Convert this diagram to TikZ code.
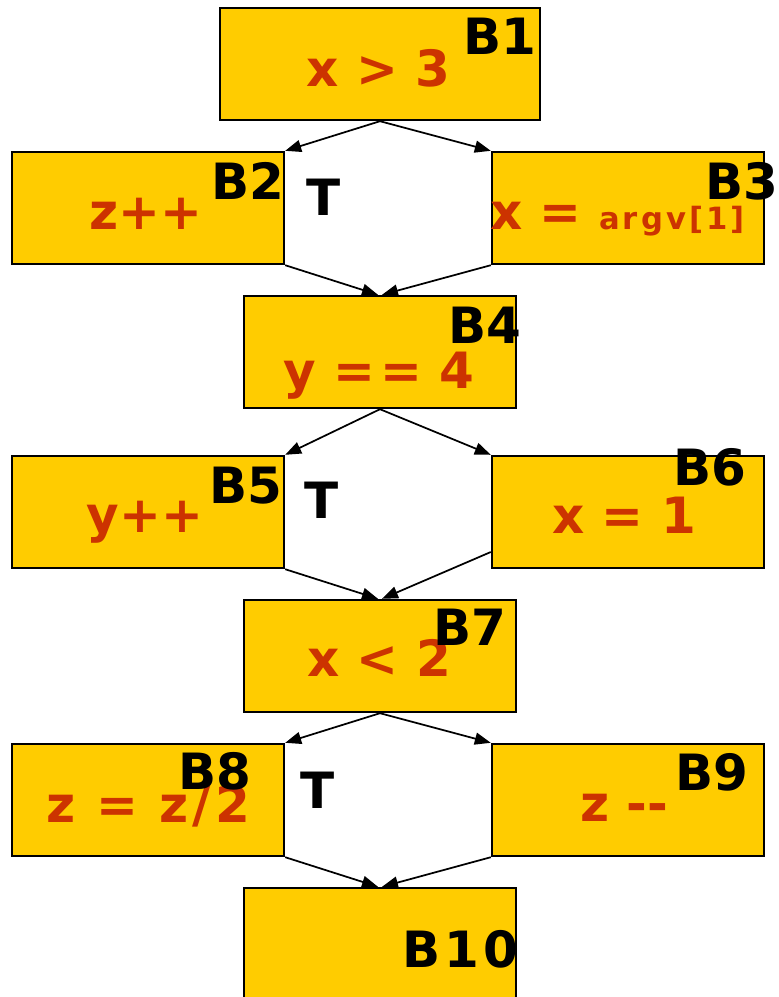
\documentclass[tikz,border=0pt]{standalone}
\usepackage{fontspec}
\newfontfamily\vfont{DejaVu Sans}
\usetikzlibrary{arrows.meta}
\definecolor{boxyellow}{HTML}{FFCC00}
\definecolor{codered}{HTML}{CC3300}
\begin{document}
\begin{tikzpicture}[x=0.75pt,y=-0.75pt,
  blk/.style={draw=black, line width=1.8pt, fill=boxyellow, inner sep=0pt,
              minimum width=204pt, minimum height=84pt},
  code/.style={text=codered, font={\vfont\bfseries\fontsize{37.5}{40}\selectfont},
               inner sep=0pt, anchor=base},
  lab/.style={text=black, font={\vfont\bfseries\fontsize{37.5}{40}\selectfont},
              inner sep=0pt, anchor=base},
  flow/.style={line width=1.3pt, -{Triangle[length=12pt,width=9pt]}}]
\useasboundingbox (0,0) rectangle (779,997);
% blocks
\node[blk, minimum width=240pt] (b1) at (380,64) {};
\node[blk] (b2) at (148,208) {};
\node[blk] (b3) at (628,208) {};
\node[blk] (b4) at (380,352) {};
\node[blk] (b5) at (148,512) {};
\node[blk] (b6) at (628,512) {};
\node[blk] (b7) at (380,656) {};
\node[blk] (b8) at (148,800) {};
\node[blk] (b9) at (628,800) {};
\node[blk, minimum height=91.5pt] (b10) at (380,949) {};
% connectors
\draw[flow] (b1.south) -- (b2.north east);
\draw[flow] (b1.south) -- (b3.north west);
\draw[flow] (b2.south east) -- ([xshift=-1.5pt]b4.north);
\draw[flow] (b3.south west) -- ([xshift=1.5pt]b4.north);
\draw[flow] (b4.south) -- (b5.north east);
\draw[flow] (b4.south) -- (b6.north west);
\draw[flow] (b5.south east) -- ([xshift=-1.5pt]b7.north);
\draw[flow] ([yshift=-30pt]b6.west) -- ([xshift=1.5pt]b7.north);
\draw[flow] (b7.south) -- (b8.north east);
\draw[flow] (b7.south) -- (b9.north west);
\draw[flow] (b8.south east) -- ([xshift=-1.5pt]b10.north);
\draw[flow] (b9.south west) -- ([xshift=1.5pt]b10.north);
% code texts
\node[code] (c1) at (378.5,86) {x > 3};
\node[code] (c2) at (146,229) {z++};
\node[code, anchor=base west] (c3) at (490,229) {x = {\fontsize{23}{25}\selectfont\addfontfeature{LetterSpace=10}argv[1]}};
\node[code] (c4) at (379,388) {y =\kern4pt= 4};
\node[code] (c5) at (145,532) {y++};
\node[code] (c6) at (624,533) {x = 1};
\node[code] (c7) at (379,676) {x < 2};
\node[code, font={\vfont\bfseries\fontsize{37.5}{40}\selectfont\addfontfeature{LetterSpace=8}}] (c8) at (148,822) {z = z/2};
\node[code, anchor=base west] (c9) at (580,821) {z -{}-};
% block labels
\node[lab] (l1) at (499.5,54) {B1};
\node[lab] (l2) at (247.5,199) {B2};
\node[lab, anchor=base west] (l3) at (705.5,199) {B3};
\node[lab] (l4) at (485,343) {B4};
\node[lab] (l5) at (246,503) {B5};
\node[lab] (l6) at (710,485) {B6};
\node[lab] (l7) at (470,645) {B7};
\node[lab] (l8) at (215,789) {B8};
\node[lab] (l9) at (712,790) {B9};
\node[lab, font={\vfont\bfseries\fontsize{37.5}{40}\selectfont\addfontfeature{LetterSpace=8}}] (l10) at (460.5,967) {B10};
% true-branch labels
\node[lab] (t1) at (323.5,215) {T};
\node[lab] (t2) at (321.5,518) {T};
\node[lab] (t3) at (317.5,808) {T};
\end{tikzpicture}
\end{document}
